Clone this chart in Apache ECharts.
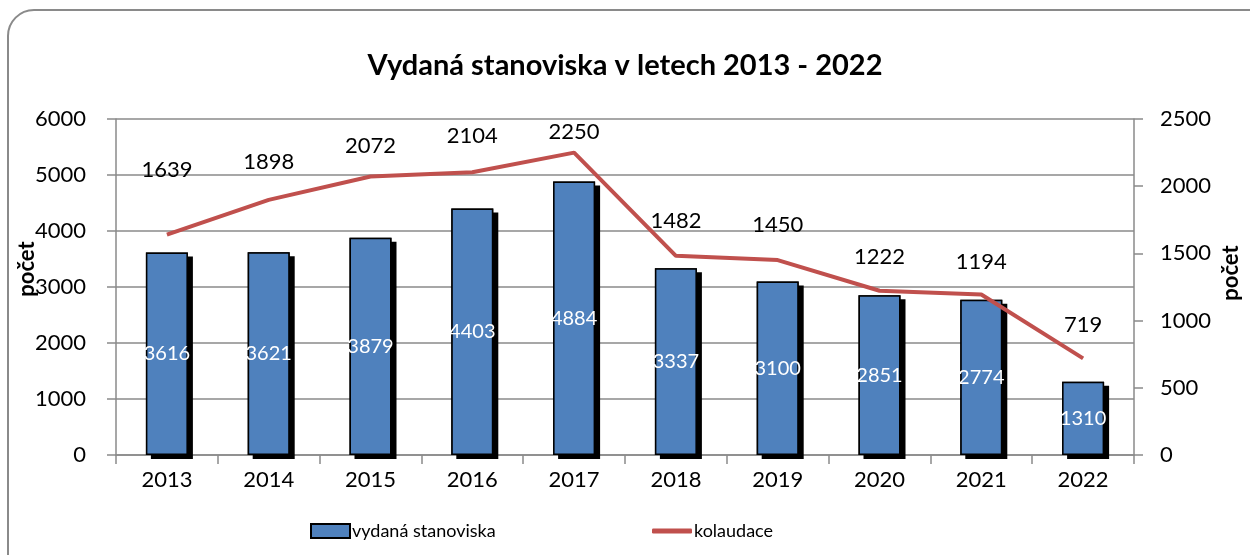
<!DOCTYPE html>
<html>
<head>
<meta charset="utf-8">
<script src="https://cdn.jsdelivr.net/npm/echarts@6/dist/echarts.min.js"></script>
<style>
html,body{margin:0;padding:0;background:#fff;}
#c{width:1250px;height:555px;}
</style>
</head>
<body>
<div id="c"></div>
<script>
const categories = ['2013','2014','2015','2016','2017','2018','2019','2020','2021','2022'];
const stanoviska = [3616,3621,3879,4403,4884,3337,3100,2851,2774,1310];
const kolaudace = [1639,1898,2072,2104,2250,1482,1450,1222,1194,719];
const leftTicks = [0,6000,1000];
const rightTicks = [0,2500,500];
const labelDistances = [54,27,20,25,10,24,24,23,22,22];

const FONT = 'Lato';
const GRAY = '#8a8a8a';
const chart = echarts.init(document.getElementById('c'));
chart.setOption({
  animation:false,
  backgroundColor:'#fff',
  textStyle:{fontFamily:FONT},
  title:{
    text:'Vydaná stanoviska v letech 2013 - 2022',
    left:'center', top:46,
    textStyle:{fontFamily:FONT,fontSize:29,fontWeight:'bold',color:'#000'}
  },
  graphic:[{
    type:'rect', silent:true,
    shape:{x:8,y:10,width:1270,height:570,r:26},
    style:{fill:'none',stroke:GRAY,lineWidth:2}
  }],
  legend:[{
    data:[{name:'vydaná stanoviska',icon:'rect'}], left:305, top:517,
    itemWidth:39, itemHeight:14, itemGap:4,
    textStyle:{fontFamily:FONT,fontSize:18,color:'#000',padding:[0,0,0,-3]}
  },{
    data:[{name:'kolaudace',icon:'roundRect'}], left:647, top:517,
    itemWidth:40, itemHeight:5,
    itemStyle:{color:'#c0504d',borderWidth:0},
    textStyle:{fontFamily:FONT,fontSize:18,color:'#000',padding:[0,0,0,-3]}
  }],
  grid:{left:116,right:110,top:119,bottom:100},
  xAxis:{
    type:'category', data:categories, boundaryGap:true,
    axisLine:{lineStyle:{color:GRAY,width:1.5}},
    axisTick:{show:true,length:9,lineStyle:{color:GRAY,width:1.5}},
    axisLabel:{fontFamily:FONT,fontSize:22,color:'#000',margin:14}
  },
  yAxis:[{
    type:'value', min:leftTicks[0], max:leftTicks[1], interval:leftTicks[2],
    name:'počet', nameLocation:'middle', nameGap:78, nameRotate:90, nameMoveOverlap:false,
    nameTextStyle:{fontFamily:FONT,fontSize:22,fontWeight:'bold',color:'#000',padding:[0,0,0,36]},
    axisLine:{show:true,lineStyle:{color:GRAY,width:1.5}},
    axisTick:{show:true,length:9,lineStyle:{color:GRAY,width:1.5}},
    axisLabel:{fontFamily:FONT,fontSize:22,color:'#000',margin:30,formatter:v=>String(v)},
    splitLine:{show:true,lineStyle:{color:GRAY,width:1.5}}
  },{
    type:'value', min:rightTicks[0], max:rightTicks[1], interval:rightTicks[2],
    position:'right',
    name:'počet', nameLocation:'middle', nameGap:86, nameRotate:90, nameMoveOverlap:false,
    nameTextStyle:{fontFamily:FONT,fontSize:22,fontWeight:'bold',color:'#000',padding:[0,0,0,28]},
    axisLine:{show:true,lineStyle:{color:GRAY,width:1.5}},
    axisTick:{show:true,length:9,lineStyle:{color:GRAY,width:1.5}},
    axisLabel:{fontFamily:FONT,fontSize:22,color:'#000',margin:26,formatter:v=>String(v)},
    splitLine:{show:false}
  }],
  series:[{
    name:'stin', type:'bar', yAxisIndex:0,
    data:stanoviska, barWidth:42, silent:true,
    itemStyle:{color:'#000',shadowColor:'#000',shadowOffsetX:5,shadowOffsetY:4,shadowBlur:0}
  },{
    name:'vydaná stanoviska', type:'bar', yAxisIndex:0,
    data:stanoviska, barWidth:42, barGap:'-100%',
    itemStyle:{color:'#4f81bd',borderColor:'#000',borderWidth:1.5},
    label:{show:true,position:'inside',fontFamily:FONT,fontSize:20,color:'#fff'}
  },{
    name:'kolaudace', type:'line', yAxisIndex:1,
    data:kolaudace.map((v,i)=>({value:v,label:{distance:labelDistances[i]}})),
    showSymbol:true, symbol:'circle', symbolSize:0.1,
    lineStyle:{color:'#c0504d',width:4},
    itemStyle:{color:'#c0504d'},
    label:{show:true,position:'top',fontFamily:FONT,fontSize:22,color:'#000'}
  }]
});
</script>
</body>
</html>
